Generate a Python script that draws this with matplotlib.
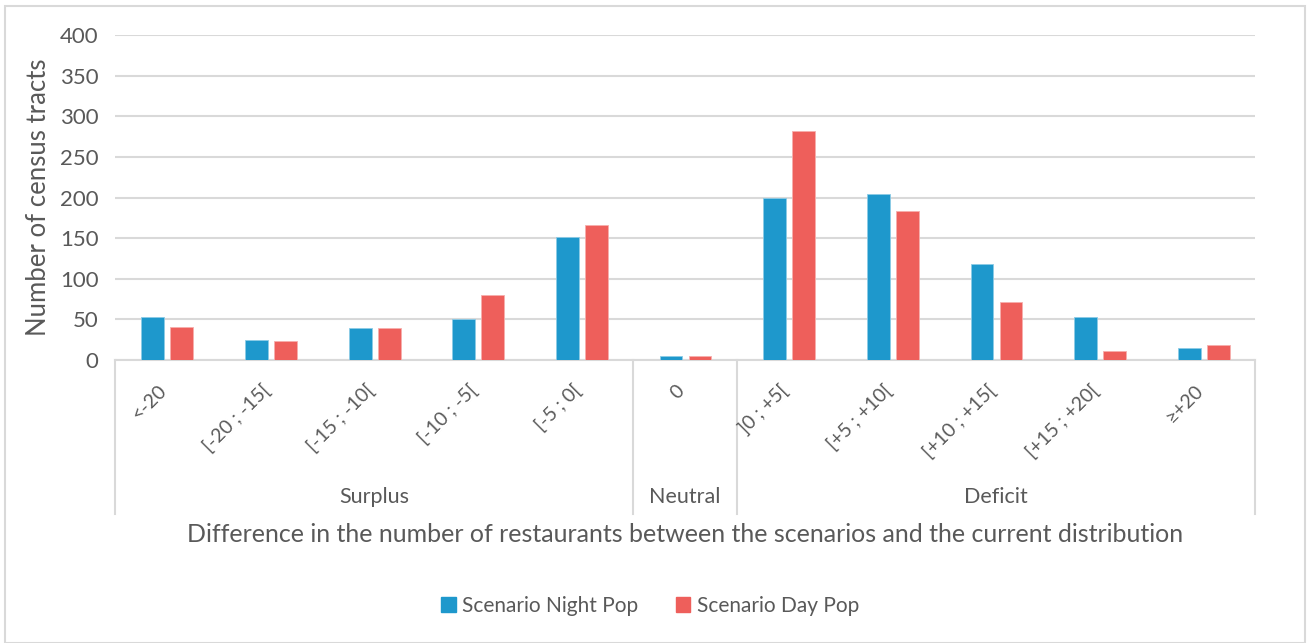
import numpy as np
import matplotlib.pyplot as plt
from matplotlib.patches import Rectangle, Patch

plt.rcParams['font.family'] = ['Lato', 'DejaVu Sans']

# Categories and counts of census tracts per difference class
categories = ['<-20', '[-20 ; -15[', '[-15 ; -10[', '[-10 ; -5[', '[-5 ; 0[', '0',
              ']0 ; +5[', '[+5 ; +10[', '[+10 ; +15[', '[+15 ; +20[', '\u2265+20']
night_pop = [53, 25, 39, 51, 152, 5, 200, 204, 118, 53, 15]
day_pop = [41, 23, 39, 80, 166, 5, 282, 183, 72, 11, 19]

# Groups: (label, first index, last index)
groups = [('Surplus', 0, 4), ('Neutral', 5, 5), ('Deficit', 6, 10)]

blue = '#1E98CC'
red = '#EE5F5B'
grid_c = '#D9D9D9'
text_c = '#595959'

W, H = 1311, 643
fig = plt.figure(figsize=(W / 100, H / 100), dpi=100)
ax = fig.add_axes([115 / W, 1 - 360 / H, (1255 - 115) / W, (360 - 35) / H])

x = np.arange(len(categories))
bw = 0.22
ax.bar(x - 0.135, night_pop, bw, color=blue, edgecolor='#8CCBE6', linewidth=0.6,
       label='Scenario Night Pop', zorder=3)
ax.bar(x + 0.145, day_pop, bw, color=red, edgecolor='#F6AFAD', linewidth=0.6,
       label='Scenario Day Pop', zorder=3)

ax.set_xlim(-0.5, len(categories) - 0.5)
ax.set_ylim(0, 400)
ax.set_yticks(range(0, 401, 50))
ax.yaxis.grid(True, color=grid_c, linewidth=1.5, zorder=0)
for s in ['top', 'right', 'left']:
    ax.spines[s].set_visible(False)
ax.spines['bottom'].set_color(grid_c)
ax.spines['bottom'].set_linewidth(1.5)
ax.tick_params(axis='y', length=0, labelsize=16, labelcolor=text_c, pad=12)
ax.tick_params(axis='x', length=0)
ax.set_xticks([])

ax.set_ylabel('Number of census tracts', fontsize=18.5, color=text_c, labelpad=6)

# rotated category labels below the axis
trans = ax.get_xaxis_transform()
for i, lab in enumerate(categories):
    ax.text(i - 0.03, -0.085, lab, transform=trans, rotation=45, rotation_mode='anchor',
            ha='right', va='center', fontsize=14, color=text_c)

# group separators and group labels
sep_y = (360 - 514) / 325
for name, a, b in groups:
    ax.plot([a - 0.5, a - 0.5], [0, sep_y], transform=trans, color=grid_c,
            linewidth=1.5, clip_on=False)
    ax.text((a + b) / 2, (360 - 497) / 325, name, transform=trans, ha='center',
            va='center', fontsize=15.5, color=text_c)
ax.plot([len(categories) - 0.5] * 2, [0, sep_y], transform=trans, color=grid_c,
        linewidth=1.5, clip_on=False)

fig.text(685 / W, 1 - 535 / H,
         'Difference in the number of restaurants between the scenarios and the current distribution',
         ha='center', va='center', fontsize=18, color=text_c)

handles = [Patch(color=blue), Patch(color=red)]
fig.legend(handles, ['Scenario Night Pop', 'Scenario Day Pop'], loc='center',
           bbox_to_anchor=(650 / W, 1 - 606 / H), ncol=2, frameon=False,
           fontsize=15, labelcolor=text_c, handlelength=0.7, handleheight=0.7,
           handletextpad=0.3, columnspacing=1.8)

# outer chart border
fig.patches.append(Rectangle((5 / W, 0), 1300 / W, 1 - 6 / H, transform=fig.transFigure,
                             fill=False, edgecolor=grid_c, linewidth=1.5))

fig.savefig('out.png', dpi=100)
